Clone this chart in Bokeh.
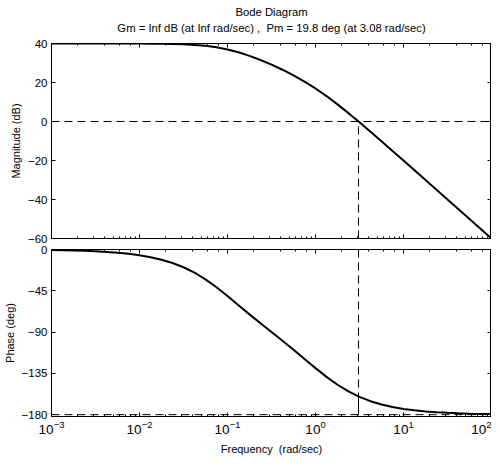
from bokeh.plotting import figure
from bokeh.models import LogAxis, LinearAxis, Title, FixedTicker, Range1d, Span
from bokeh.layouts import column
from bokeh.embed import file_html
from bokeh.resources import INLINE

# Frequencies (rad/sec), 8 points per decade
freq = [0.001, 0.0013335, 0.0017783, 0.0023714, 0.0031623, 0.004217, 0.0056234, 0.0074989,
        0.01, 0.013335, 0.017783, 0.023714, 0.031623, 0.04217, 0.056234, 0.074989,
        0.1, 0.13335, 0.17783, 0.23714, 0.31623, 0.4217, 0.56234, 0.74989,
        1.0, 1.3335, 1.7783, 2.3714, 3.1623, 4.217, 5.6234, 7.4989,
        10.0, 13.335, 17.783, 23.714, 31.623, 42.17, 56.234, 74.989, 100.0]

mag_db = [40.0, 40.0, 40.0, 40.0, 40.0, 39.99, 39.99, 39.98,
          39.96, 39.92, 39.86, 39.76, 39.58, 39.28, 38.79, 38.04,
          36.95, 35.49, 33.67, 31.55, 29.17, 26.55, 23.67, 20.49,
          16.95, 13.04, 8.79, 4.28, -0.42, -5.24, -10.14, -15.08,
          -20.04, -25.02, -30.01, -35.01, -40.0, -45.0, -50.0, -55.0, -60.0]

phase_deg = [-0.63, -0.84, -1.12, -1.49, -1.99, -2.66, -3.54, -4.72,
             -6.28, -8.36, -11.10, -14.70, -19.36, -25.28, -32.58, -41.16,
             -50.71, -60.73, -70.72, -80.47, -90.00, -99.53, -109.28, -119.27,
             -129.29, -138.84, -147.42, -154.72, -160.64, -165.30, -168.90, -171.64,
             -173.72, -175.28, -176.46, -177.35, -178.01, -178.50, -178.88, -179.16, -179.37]

wc = 3.08          # gain crossover frequency (rad/sec)
pm = 19.8          # phase margin (deg)
mag_ticks = [-60, -40, -20, 0, 20, 40]
phase_ticks = [-180, -135, -90, -45, 0]
title_main = "Bode Diagram"
title_sub = "Gm = Inf dB (at Inf rad/sec) ,\u00a0 Pm = 19.8 deg (at 3.08 rad/sec)"
xlabel = "Frequency\u00a0 (rad/sec)"
ylabel_mag = "Magnitude (dB)"
ylabel_phase = "Phase (deg)"

FONT = "Liberation Sans"
DASH = "8 5"


def style_axis(ax, labels=True, minor=True, size="11.5px"):
    ax.major_tick_in = 4
    ax.major_tick_out = 0
    ax.minor_tick_in = 2 if minor else 0
    ax.minor_tick_out = 0
    ax.axis_line_color = "black"
    ax.major_tick_line_color = "black"
    ax.minor_tick_line_color = "black"
    ax.major_label_text_font = FONT
    ax.major_label_text_color = "black"
    ax.axis_label_text_font = FONT
    ax.axis_label_text_font_style = "normal"
    ax.axis_label_text_font_size = "11px"
    ax.axis_label_text_color = "black"
    if labels:
        ax.major_label_text_font_size = size
        ax.major_label_standoff = 4
    else:
        ax.major_label_text_font_size = "1px"
        ax.major_label_text_alpha = 0
        ax.major_label_standoff = 0
        ax.axis_label_standoff = 0


def make_fig(height, yrange, yticks, ylabel, min_top, min_bottom, xlabels):
    p = figure(width=491, height=height, x_axis_type="log",
               x_range=Range1d(freq[0], freq[-1]), y_range=Range1d(*yrange),
               output_backend="svg", toolbar_location=None,
               min_border_left=44, min_border_right=0,
               min_border_top=min_top, min_border_bottom=min_bottom)
    p.grid.visible = False
    p.outline_line_color = "black"
    p.background_fill_color = "white"
    p.border_fill_color = "white"
    bottom = p.below[0]
    style_axis(bottom, labels=xlabels, size="13.5px")
    p.yaxis[0].ticker = FixedTicker(ticks=yticks)
    style_axis(p.yaxis[0], labels=True, minor=False)
    p.yaxis[0].axis_label = ylabel
    p.yaxis[0].axis_label_standoff = 3
    top = LogAxis()
    style_axis(top, labels=False)
    p.add_layout(top, "above")
    right = LinearAxis(ticker=FixedTicker(ticks=yticks))
    style_axis(right, labels=False, minor=False)
    p.add_layout(right, "right")
    return p, bottom, top


def title(text, size, standoff):
    return Title(text=text, align="center", text_font=FONT, standoff=standoff,
                 text_font_size=size, text_font_style="normal", text_color="black")


# Magnitude plot
p1, b1, t1 = make_fig(244, (mag_ticks[0], mag_ticks[-1]), mag_ticks, ylabel_mag, 43, 6, False)
p1.add_layout(title(" ", "1px", 6), "above")          # small spacer above the frame
p1.add_layout(title(title_sub, "11.3px", 2), "above")
p1.add_layout(title(title_main, "11.3px", 2), "above")
p1.add_layout(Span(location=0, dimension="width", line_color="black",
                   line_width=1, line_dash=DASH))
p1.segment(x0=[wc], y0=[mag_ticks[0]], x1=[wc], y1=[0],
           line_color="black", line_width=1, line_dash=DASH)
p1.line(freq, mag_db, line_color="black", line_width=2)

# Phase plot
p2, b2, t2 = make_fig(214, (-182, phase_ticks[-1]), phase_ticks, ylabel_phase, 5, 42, True)
b2.axis_label = xlabel
b2.axis_label_standoff = 6
p2.add_layout(Span(location=-180, dimension="width", line_color="black",
                   line_width=1, line_dash=DASH))
p2.segment(x0=[wc], y0=[phase_ticks[-1]], x1=[wc], y1=[-180 + pm],
           line_color="black", line_width=1, line_dash=DASH)
p2.segment(x0=[wc], y0=[-180 + pm], x1=[wc], y1=[-180],
           line_color="black", line_width=1)
p2.line(freq, phase_deg, line_color="black", line_width=2)

layout = column(p1, p2, spacing=0)
open("out.html", "w").write(file_html(layout, INLINE))
